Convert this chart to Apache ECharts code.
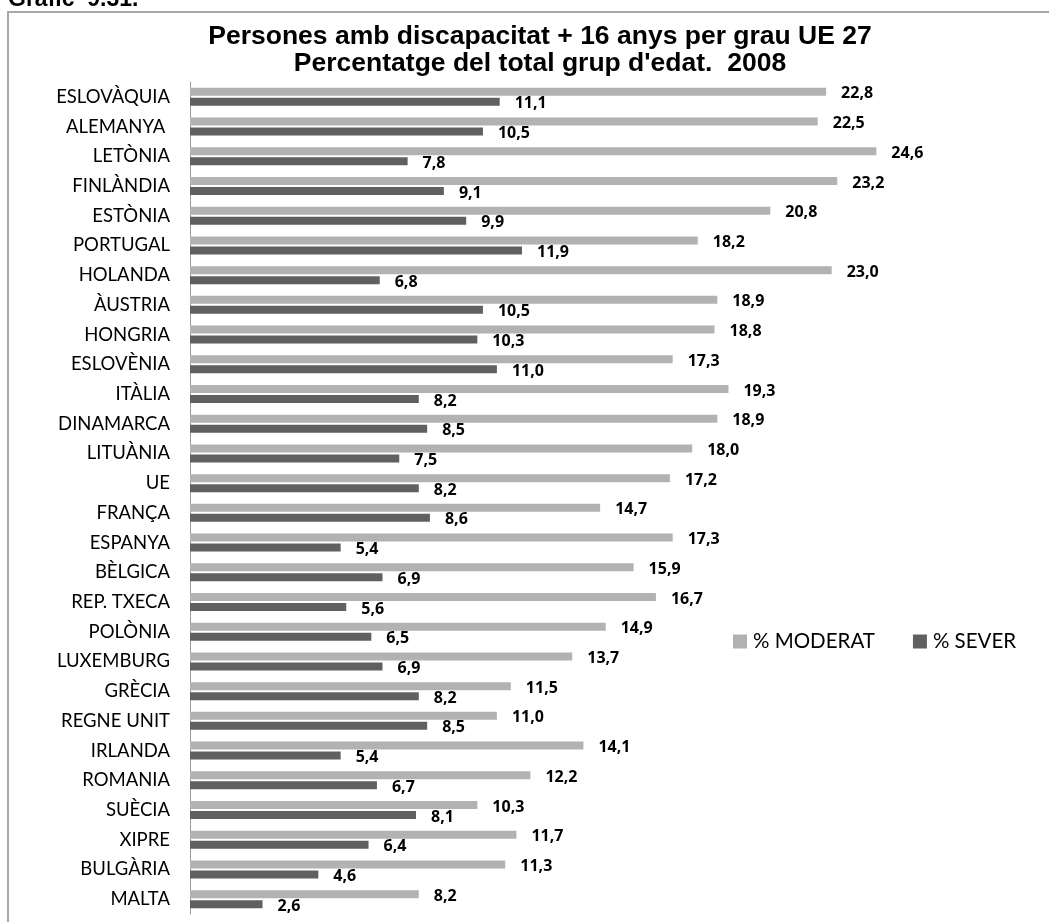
<!DOCTYPE html>
<html>
<head>
<meta charset="utf-8">
<script src="https://cdn.jsdelivr.net/npm/echarts@6/dist/echarts.min.js"></script>
<style>
html,body{margin:0;padding:0;background:#fff;}
#chart{width:1049px;height:922px;}
</style>
</head>
<body>
<div id="chart"></div>
<script>
var categories = ['ESLOVÀQUIA','ALEMANYA ','LETÒNIA','FINLÀNDIA','ESTÒNIA','PORTUGAL','HOLANDA','ÀUSTRIA','HONGRIA','ESLOVÈNIA','ITÀLIA','DINAMARCA','LITUÀNIA','UE','FRANÇA','ESPANYA','BÈLGICA','REP. TXECA','POLÒNIA','LUXEMBURG','GRÈCIA','REGNE UNIT','IRLANDA','ROMANIA','SUÈCIA','XIPRE','BULGÀRIA','MALTA'];
var moderat = [22.8,22.5,24.6,23.2,20.8,18.2,23.0,18.9,18.8,17.3,19.3,18.9,18.0,17.2,14.7,17.3,15.9,16.7,14.9,13.7,11.5,11.0,14.1,12.2,10.3,11.7,11.3,8.2];
var sever = [11.1,10.5,7.8,9.1,9.9,11.9,6.8,10.5,10.3,11.0,8.2,8.5,7.5,8.2,8.6,5.4,6.9,5.6,6.5,6.9,8.2,8.5,5.4,6.7,8.1,6.4,4.6,2.6];
var seriesNames = ['% MODERAT','% SEVER'];
var titleLines = ['Persones amb discapacitat + 16 anys per grau UE 27','Percentatge del total grup d\'edat.  2008'];
var figureLabel = 'Gràfic  9.31.';

var chart = echarts.init(document.getElementById('chart'));
function fmt(p){ return p.value.toFixed(1).replace('.', ','); }
var labelStyle = {
  show: true, position: 'right', distance: 15, offset: [0, 2],
  formatter: fmt, fontFamily: 'Open Sans', fontWeight: 'bold', fontSize: 16, color: '#000'
};
chart.setOption({
  animation: false,
  backgroundColor: '#fff',
  title: {
    text: titleLines.join('\n'),
    left: 535, top: 18, textAlign: 'center',
    textStyle: { fontFamily: 'Liberation Sans, Arial', fontWeight: 'bold', fontSize: 26.5, lineHeight: 27, color: '#000' }
  },
  legend: {
    data: seriesNames,
    left: 728, top: 626,
    icon: 'rect', itemWidth: 14, itemHeight: 14, itemGap: 38,
    textStyle: { fontFamily: 'Lato', fontSize: 20.5, color: '#000', padding: [0,0,0,1] }
  },
  grid: { left: 190, right: 22, top: 82, bottom: 8, containLabel: false },
  xAxis: { type: 'value', min: 0, max: 30, show: false, splitLine: { show: false } },
  yAxis: {
    type: 'category', data: categories, inverse: true,
    axisLine: { show: true, lineStyle: { color: '#9a9a9a', width: 1 } },
    axisTick: { show: false },
    axisLabel: { margin: 20, fontFamily: 'Lato', fontSize: 18.5, color: '#000', padding: [4,0,0,0] }
  },
  series: [
    { name: seriesNames[0], type: 'bar', data: moderat, barWidth: 8, barGap: '25%',
      itemStyle: { color: '#b2b2b2' }, label: labelStyle },
    { name: seriesNames[1], type: 'bar', data: sever, barWidth: 8, barGap: '25%',
      itemStyle: { color: '#606060' }, label: labelStyle }
  ],
  graphic: [
    { type: 'polyline', shape: { points: [[8, 930], [8, 12], [1060, 12]] },
      style: { stroke: '#a8a8a8', lineWidth: 2, fill: null }, silent: true },
    { type: 'text', left: 8, top: -12,
      style: { text: figureLabel, font: 'bold 23px "Liberation Sans", Arial', fill: '#000' } }
  ]
});
</script>
</body>
</html>
